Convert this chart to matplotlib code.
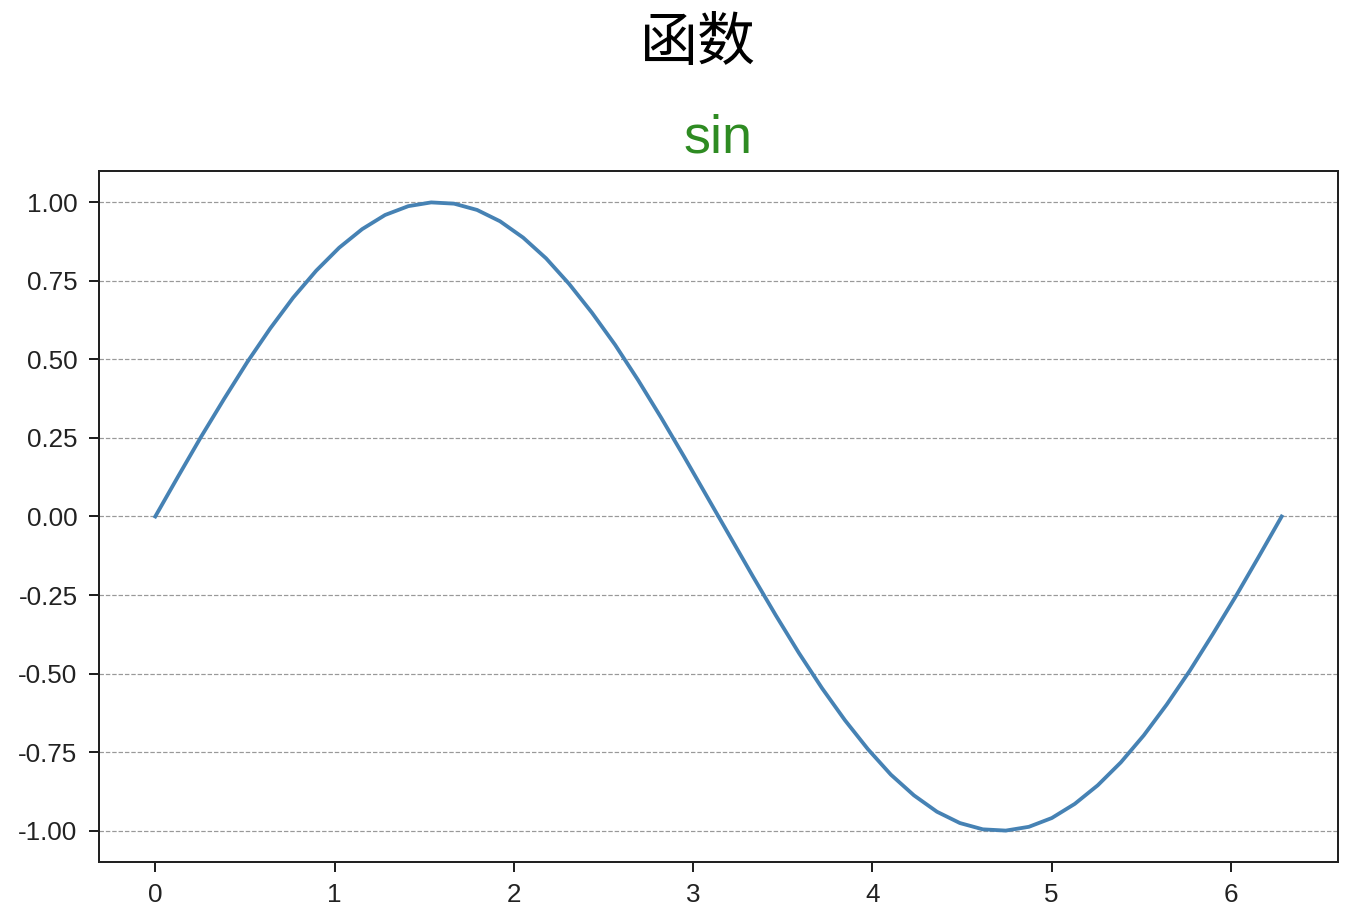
import matplotlib
matplotlib.use('Agg')
import matplotlib.pyplot as plt

# sin curve values (50 samples over 0..2pi)
x_vals = [0.000, 0.128, 0.256, 0.385, 0.513, 0.641, 0.769, 0.898, 1.026, 1.154,
          1.282, 1.411, 1.539, 1.667, 1.795, 1.923, 2.052, 2.180, 2.308, 2.436,
          2.565, 2.693, 2.821, 2.949, 3.077, 3.206, 3.334, 3.462, 3.590, 3.719,
          3.847, 3.975, 4.103, 4.232, 4.360, 4.488, 4.616, 4.744, 4.873, 5.001,
          5.129, 5.257, 5.386, 5.514, 5.642, 5.770, 5.898, 6.027, 6.155, 6.283]
sin_vals = [0.000, 0.128, 0.254, 0.375, 0.491, 0.598, 0.696, 0.782, 0.855, 0.914,
            0.959, 0.987, 0.999, 0.995, 0.975, 0.939, 0.887, 0.821, 0.740, 0.648,
            0.546, 0.434, 0.315, 0.191, 0.064, -0.064, -0.191, -0.315, -0.434, -0.546,
            -0.648, -0.740, -0.821, -0.887, -0.939, -0.975, -0.995, -0.999, -0.987, -0.959,
            -0.914, -0.855, -0.782, -0.696, -0.598, -0.491, -0.375, -0.254, -0.128, 0.000]
y_ticks = [1.00, 0.75, 0.50, 0.25, 0.00, -0.25, -0.50, -0.75, -1.00]

plt.rcParams['font.family'] = ['Liberation Sans', 'Noto Sans CJK SC', 'DejaVu Sans']

fig = plt.figure(figsize=(9.375, 6.417), dpi=144)
ax = fig.add_axes([0.0733, 0.0671, 0.9178, 0.7478])

ax.plot(x_vals, sin_vals, color='#4682b4', linewidth=1.9)
ax.set_yticks(y_ticks)
ax.set_yticklabels(['%.2f' % v for v in y_ticks])
ax.grid(axis='y', linestyle='--', color='#999999', linewidth=0.6)
ax.tick_params(labelsize=13, colors='#222222', length=5.2, width=1.0, pad=5.5)
for sp in ax.spines.values():
    sp.set_linewidth(1.0)
    sp.set_color('#222222')

ax.set_title('sin', color='#2e8b22', fontsize=27, pad=9.5)
fig.text(0.517, 0.953, '函数', fontsize=29, ha='center', va='center',
         family=['Noto Sans CJK SC', 'DejaVu Sans'])

fig.savefig('out.png', dpi=144)
